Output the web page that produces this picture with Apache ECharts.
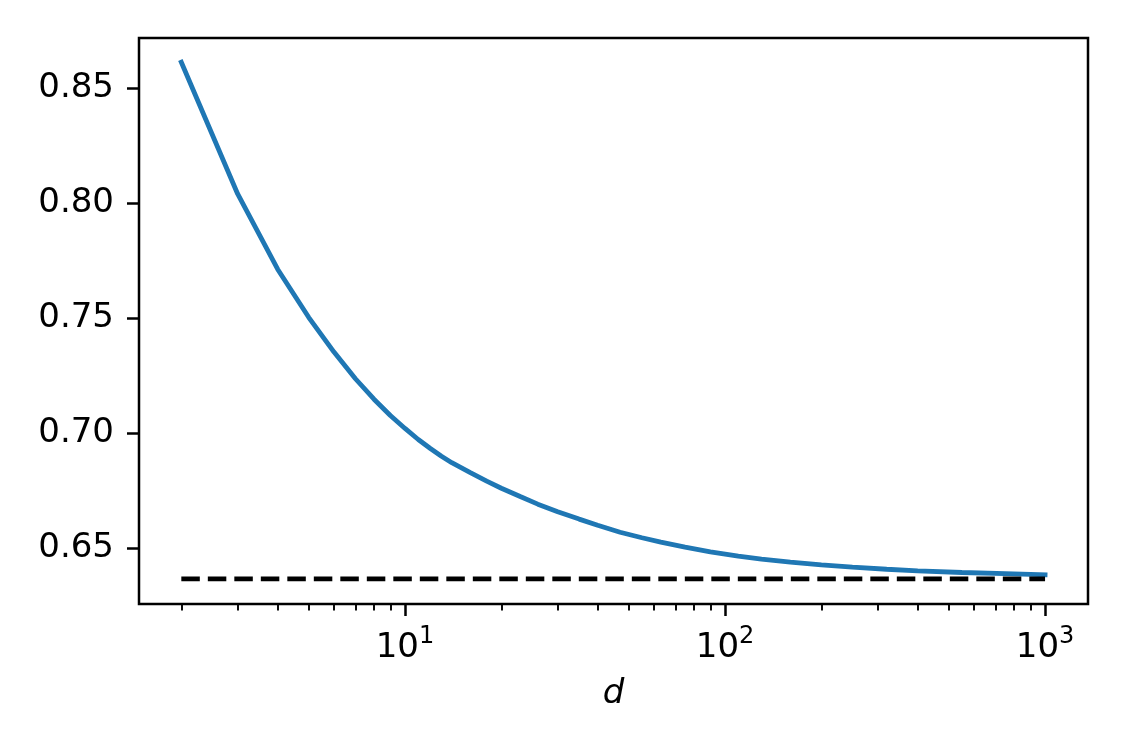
<!DOCTYPE html>
<html>
<head>
<meta charset="utf-8">
<script src="https://cdn.jsdelivr.net/npm/echarts@6/dist/echarts.min.js"></script>
<style>
  html, body { margin: 0; padding: 0; background: #fff; }
  #chart { width: 1125px; height: 750px; }
</style>
</head>
<body>
<div id="chart"></div>
<script>
// curve values
var dValues = [2, 3, 4, 5, 6, 7, 8, 9, 10, 11, 12, 13, 14, 16, 18, 20, 23, 26, 30, 35, 40, 47, 55, 63, 75, 90,
    110, 130, 160, 200, 250, 320, 400, 550, 750, 1000];
var curveValues = [0.8612, 0.8039, 0.7712, 0.7503, 0.7352, 0.7236, 0.7147, 0.7076, 0.7020, 0.6972, 0.6933, 0.6899,
    0.6871, 0.6828, 0.6791, 0.6760, 0.6723, 0.6691, 0.6658, 0.6626, 0.6599, 0.6569, 0.6545, 0.6526, 0.6504, 0.6484,
    0.6465, 0.6452, 0.6439, 0.6427, 0.6417, 0.6408, 0.6401, 0.6394, 0.6389, 0.6384];
// dashed reference level
var limitD = [2, 1000];
var limitValue = [0.6366, 0.6366];

var yTicks = [0.65, 0.70, 0.75, 0.80, 0.85];
var xMajorTicks = [10, 100, 1000];
var xMajorExp = ['1', '2', '3'];
var xMinorTicks = [2, 3, 4, 5, 6, 7, 8, 9, 20, 30, 40, 50, 60, 70, 80, 90, 200, 300, 400, 500, 600, 700, 800, 900];

var FONT = 'DejaVu Sans';

var curveData = dValues.map(function (d, i) { return [d, curveValues[i]]; });
var limitData = limitD.map(function (d, i) { return [d, limitValue[i]]; });

var myChart = echarts.init(document.getElementById('chart'), null, {renderer: 'canvas'});

var option = {
    animation: false,
    backgroundColor: '#ffffff',
    grid: {
        left: 139, right: 37, top: 38, bottom: 146,
        show: true, borderColor: '#000', borderWidth: 2.5,
        outerBoundsMode: 'none',
        containLabel: false
    },
    xAxis: [
        {
            type: 'log', logBase: 10, min: 1.475, max: 1362,
            position: 'bottom',
            axisLine: {show: false},
            splitLine: {show: false},
            minorTick: {show: false},
            axisTick: {show: true, inside: false, length: 12, customValues: xMajorTicks,
                lineStyle: {color: '#000', width: 2.5}},
            axisLabel: {
                show: true, margin: 21, customValues: xMajorTicks,
                formatter: function (v) {
                    var i = xMajorTicks.indexOf(Math.round(v));
                    return '{b|10}{s|' + xMajorExp[i] + '}';
                },
                rich: {
                    b: {fontFamily: FONT, fontSize: 34, color: '#000', lineHeight: 40, verticalAlign: 'bottom'},
                    s: {fontFamily: FONT, fontSize: 24, color: '#000', lineHeight: 40, verticalAlign: 'top'}
                }
            },
            name: 'd',
            nameLocation: 'middle',
            nameGap: 73,
            nameTextStyle: {fontFamily: FONT, fontSize: 34, fontStyle: 'italic', color: '#000'}
        },
        {
            type: 'log', logBase: 10, min: 1.475, max: 1362,
            position: 'bottom',
            axisLine: {show: false},
            splitLine: {show: false},
            axisTick: {show: true, inside: false, length: 6.5, customValues: xMinorTicks,
                lineStyle: {color: '#000', width: 1.9}},
            axisLabel: {show: false}
        }
    ],
    yAxis: {
        type: 'value', min: 0.6257, max: 0.8717,
        axisLine: {show: false},
        splitLine: {show: false},
        axisTick: {show: true, inside: false, length: 12, customValues: yTicks,
            lineStyle: {color: '#000', width: 2.5}},
        axisLabel: {
            show: true, margin: 25, customValues: yTicks,
            fontFamily: FONT, fontSize: 34, color: '#000',
            formatter: function (v) { return v.toFixed(2); }
        }
    },
    series: [
        {
            type: 'line',
            xAxisIndex: 0,
            data: curveData,
            showSymbol: false,
            symbol: 'none',
            lineStyle: {color: '#1f77b4', width: 4.8, cap: 'square'},
            z: 2
        },
        {
            type: 'line',
            xAxisIndex: 0,
            data: limitData,
            showSymbol: false,
            symbol: 'none',
            lineStyle: {color: '#000000', width: 4.8, type: [18.5, 8], cap: 'butt'},
            z: 3
        }
    ]
};

if (option && typeof option === "object") {
    myChart.setOption(option, true);
}
</script>
</body>
</html>
